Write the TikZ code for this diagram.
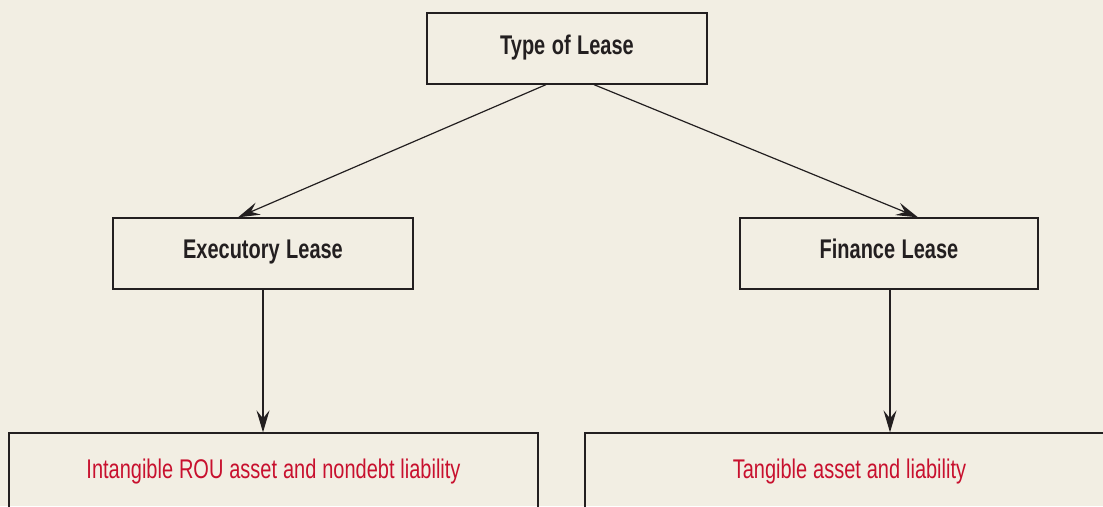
\documentclass[tikz,border=0pt]{standalone}
\usepackage{fontspec}
\setmainfont{Liberation Sans}[FakeStretch=0.74]
\usetikzlibrary{arrows.meta,calc}
\definecolor{bg}{HTML}{F2EEE3}
\definecolor{ink}{HTML}{231F20}
\definecolor{redtxt}{HTML}{C8102E}
\tikzset{
  box/.style={draw=ink, line width=1.3pt, rectangle, inner sep=0pt, align=center, anchor=base, font=\fontsize{27}{29}\selectfont\bfseries, execute at begin node={\spaceskip=0.24em\relax}, text=ink},
  resbox/.style={draw=ink, line width=1.3pt, rectangle, inner sep=0pt, align=center, anchor=base, font=\fontsize{27}{29}\selectfont, execute at begin node={\spaceskip=0.22em\relax}, text=redtxt},
  conn/.style={draw=ink, line width=1.2pt, -{Stealth[length=22pt,width=13pt,inset=8pt]}}
}
\begin{document}
\begin{tikzpicture}[x=1pt,y=-1pt]
\fill[bg] (0,0) rectangle (1103,506);
\useasboundingbox (0,0) rectangle (1103,506);
\node[box, text width=280pt, text height=41pt, text depth=30pt] (type) at (567,54) {Type of Lease};
\node[box, text width=300pt, text height=40pt, text depth=31pt] (exec) at (263,258) {Executory Lease};
\node[box, text width=298pt, text height=40pt, text depth=31pt] (fin) at (889,258) {Finance Lease};
\node[resbox, text width=529pt, text height=45pt, text depth=62pt] (intang) at (273.5,478) {Intangible ROU asset and nondebt liability};
\node[resbox, text width=529pt, text height=45pt, text depth=62pt] (tang) at (849.5,478) {Tangible asset and liability};
\draw[conn] ([xshift=-21pt]type.south) -- ([xshift=-25pt]exec.north);
\draw[conn] ([xshift=27pt]type.south) -- ([xshift=29pt]fin.north);
\draw[conn] (exec.south) -- (exec.south |- intang.north);
\draw[conn] ([xshift=1pt]fin.south) -- ([xshift=1pt]fin.south |- tang.north);
\end{tikzpicture}
\end{document}
